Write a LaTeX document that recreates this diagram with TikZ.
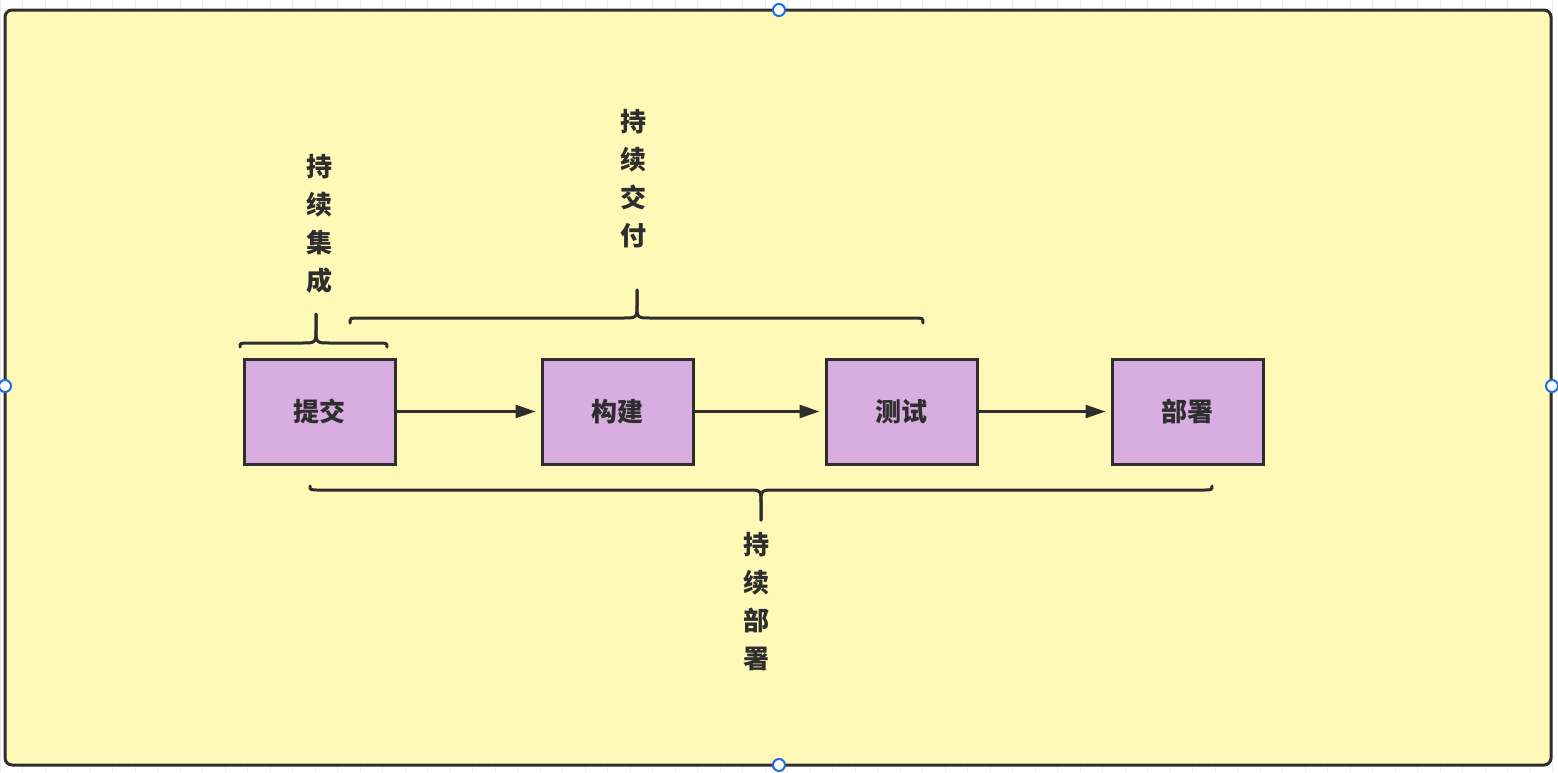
\documentclass[tikz,border=0pt]{standalone}
\usepackage{fontspec}
\newfontfamily\cjk{Noto Sans CJK SC}
\usetikzlibrary{arrows.meta}
\definecolor{bgyellow}{HTML}{FFF8B7}
\definecolor{boxpurple}{HTML}{D8ADE0}
\definecolor{ink}{HTML}{2E2E2E}
\definecolor{gridgray}{HTML}{E9E9E9}
\definecolor{handleblue}{HTML}{1A6FE6}
\tikzset{
  stage/.style={draw=ink, fill=boxpurple, line width=3pt, minimum width=151pt, minimum height=105pt, inner sep=0pt, font=\cjk\bfseries\fontsize{26}{30}\selectfont, text=ink},
  flow/.style={draw=ink, line width=2.6pt, -{Triangle[length=20pt,width=13pt]}, shorten >=5pt},
  bracepath/.style={draw=ink, line width=3pt, line cap=round},
  vlabel/.style={align=center, font=\cjk\bfseries\fontsize{26}{38}\selectfont, text=ink, inner sep=0pt},
  handle/.style={draw=handleblue, fill=white, line width=2pt, circle, minimum size=12pt, inner sep=0pt}
}
\begin{document}
\begin{tikzpicture}[x=1pt,y=-1pt]
\useasboundingbox (0,0) rectangle (1558,772);
\fill[white] (0,0) rectangle (1558,772);
\draw[gridgray, line width=0.8pt] (0,0) grid[step=22.5] (1558,772);
\draw[draw=ink, fill=bgyellow, line width=3pt, rounded corners=7pt] (5,10) rectangle (1551,765);

\node[stage] (commit) at (319.5,411.5) {提交};
\node[stage] (build) at (617.5,411.5) {构建};
\node[stage] (test) at (901.5,411.5) {测试};
\node[stage] (deploy) at (1187.5,411.5) {部署};

\draw[flow] (commit.east) -- (build.west);
\draw[flow] (build.east) -- (test.west);
\draw[flow] (test.east) -- (deploy.west);

% CI brace
\coordinate (ciL) at (240,347);
\coordinate (ciR) at (387,347);
\coordinate (ciT) at (316,314);
\draw[bracepath] (ciL) .. controls (240,343) .. (250,343) -- (302,343)
  .. controls (316,343) .. (316,328) -- (ciT);
\draw[bracepath] (ciT) -- (316,328) .. controls (316,343) .. (330,343)
  -- (377,343) .. controls (387,343) .. (ciR);

% CD brace
\coordinate (cdL) at (350,323);
\coordinate (cdR) at (923,323);
\coordinate (cdT) at (637,290);
\draw[bracepath] (cdL) .. controls (350,318) .. (360,318) -- (623,318)
  .. controls (637,318) .. (637,304) -- (cdT);
\draw[bracepath] (cdT) -- (637,304) .. controls (637,318) .. (651,318)
  -- (913,318) .. controls (923,318) .. (cdR);

% Deploy brace
\coordinate (dpL) at (310,486);
\coordinate (dpR) at (1212,486);
\coordinate (dpT) at (761,520);
\draw[bracepath] (dpL) .. controls (310,490) .. (320,490) -- (747,490)
  .. controls (761,490) .. (761,504) -- (dpT);
\draw[bracepath] (dpT) -- (761,504) .. controls (761,490) .. (775,490)
  -- (1202,490) .. controls (1212,490) .. (dpR);

\node[vlabel] (ci) at (319,224) {持\\续\\集\\成};
\node[vlabel] (cd) at (633,179) {持\\续\\交\\付};
\node[vlabel] (cdp) at (756,602) {持\\续\\部\\署};

\node[handle] (h1) at (779,10) {};
\node[handle] (h2) at (779,765) {};
\node[handle] (h3) at (5,386) {};
\node[handle] (h4) at (1552,386) {};
\end{tikzpicture}
\end{document}
